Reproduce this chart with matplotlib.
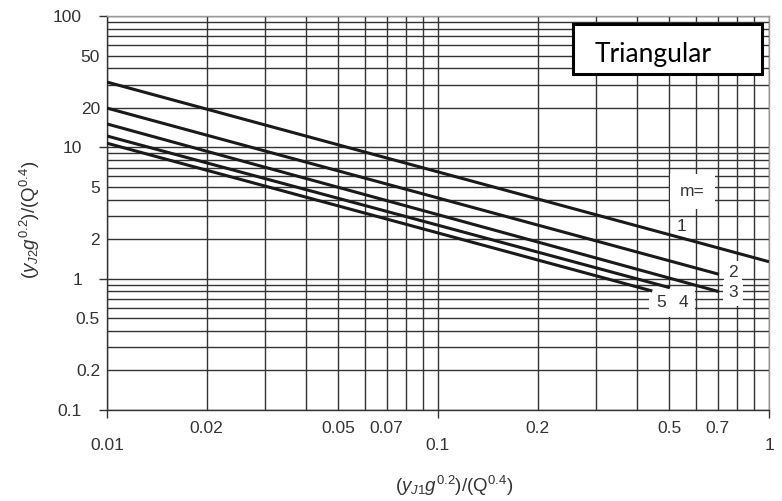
import matplotlib
matplotlib.use("Agg")
import matplotlib.pyplot as plt
from matplotlib.ticker import LogLocator, FuncFormatter, FixedLocator
from matplotlib.patches import Rectangle
import numpy as np

plt.rcParams["mathtext.fontset"] = "custom"
plt.rcParams["mathtext.rm"] = "Liberation Sans"
plt.rcParams["mathtext.it"] = "Liberation Sans:italic"
plt.rcParams["mathtext.bf"] = "Liberation Sans:bold"

# ---- data ----
m_values = ["1", "2", "3", "4", "5"]
x_start = [0.01, 0.01, 0.01, 0.01, 0.01]
x_end = [1.0, 0.706, 0.706, 0.502, 0.444]
y_start = [31.4, 19.9, 15.07, 12.2, 10.75]
y_end = [1.346, 1.08, 0.796, 0.853, 0.805]

x_major = [0.01, 0.1, 1]
x_minor_labels = [0.02, 0.05, 0.07, 0.2, 0.5, 0.7]
y_major = [0.1, 1, 10, 100]
y_minor_labels = [0.2, 0.5, 2, 5, 20, 50]

fig = plt.figure(figsize=(7.82, 5.01), dpi=100)
ax = fig.add_axes([107/782, 1 - 410/501, 662/782, 394/501])
ax.set_xscale("log")
ax.set_yscale("log")
ax.set_xlim(0.01, 1)
ax.set_ylim(0.1, 100)

tc = "#333333"
font = "Liberation Sans"
fs = 12.5

def fmt(v, pos=None):
    return f"{v:g}"

ax.xaxis.set_major_locator(FixedLocator(x_major))
ax.xaxis.set_minor_locator(LogLocator(base=10, subs=np.arange(2, 10)))
ax.yaxis.set_major_locator(FixedLocator(y_major))
ax.yaxis.set_minor_locator(LogLocator(base=10, subs=np.arange(2, 10)))
ax.xaxis.set_major_formatter(FuncFormatter(fmt))
ax.yaxis.set_major_formatter(FuncFormatter(fmt))

def minor_fmt(labels):
    def f(v, pos=None):
        for l in labels:
            if abs(np.log10(v) - np.log10(l)) < 1e-6:
                return f"{l:g}"
        return ""
    return FuncFormatter(f)

ax.xaxis.set_minor_formatter(minor_fmt(x_minor_labels))
ax.yaxis.set_minor_formatter(minor_fmt(y_minor_labels))

ax.tick_params(axis="x", which="major", length=6, width=1, color=tc, pad=14,
               labelsize=fs, labelcolor=tc)
ax.tick_params(axis="x", which="minor", length=0, pad=8, labelsize=fs, labelcolor=tc)
ax.tick_params(axis="y", which="major", length=6, width=1, color=tc, pad=12,
               labelsize=fs, labelcolor=tc)
ax.tick_params(axis="y", which="minor", length=0, pad=5, labelsize=fs, labelcolor=tc)
for lab in ax.get_xticklabels(which="both") + ax.get_yticklabels(which="both"):
    lab.set_fontfamily(font)

ax.grid(True, which="both", color="#333333", linewidth=1.0, zorder=0)
ax.set_axisbelow(True)

for s in ["left", "bottom"]:
    ax.spines[s].set_color(tc)
    ax.spines[s].set_linewidth(1.0)
for s in ["top", "right"]:
    ax.spines[s].set_color("#999999")
    ax.spines[s].set_linewidth(1.0)

for i in range(len(m_values)):
    ax.plot([x_start[i], x_end[i]], [y_start[i], y_end[i]], color="#1a1a1a",
            linewidth=2.2, solid_capstyle="butt", zorder=5)

# curve labels
lab_kw = dict(fontsize=fs, color=tc, family=font, ha="center", va="center", zorder=4)
ax.text(0.587, 4.6, "m=", bbox=dict(facecolor="white", edgecolor="none", pad=7), **lab_kw)
ax.text(0.545, 2.49, m_values[0], bbox=dict(facecolor="white", edgecolor="none", pad=1), **lab_kw)
ax.text(0.778, 1.105, m_values[1], bbox=dict(facecolor="white", edgecolor="none", pad=3), **lab_kw)
ax.text(0.778, 0.778, m_values[2], bbox=dict(facecolor="white", edgecolor="none", pad=4), **lab_kw)
ax.text(0.551, 0.656, m_values[3], bbox=dict(facecolor="white", edgecolor="none", pad=5), **lab_kw)
ax.text(0.472, 0.656, m_values[4], bbox=dict(facecolor="white", edgecolor="none", pad=5), **lab_kw)

# title box
ax.add_patch(Rectangle((0.704, 0.853), 0.285, 0.127, transform=ax.transAxes,
                       facecolor="white", edgecolor="black", linewidth=2.2, zorder=6))
ax.text(0.737, 0.884, "Triangular", transform=ax.transAxes, fontsize=19,
        family="Lato", color="black", ha="left", va="baseline", zorder=7)

ax.set_xlabel(r"$(y_{J1}g^{0.2})/(\mathrm{Q}^{0.4})$", fontsize=13.5, color=tc)
ax.xaxis.set_label_coords((454 - 107) / 662, (410 - 474) / 394)
ax.set_ylabel(r"$(y_{J2}g^{0.2})/(\mathrm{Q}^{0.4})$", fontsize=13.5, color=tc)
ax.yaxis.set_label_coords((42 - 107) / 662, (410 - 220) / 394)

fig.savefig("out.png", dpi=100)
